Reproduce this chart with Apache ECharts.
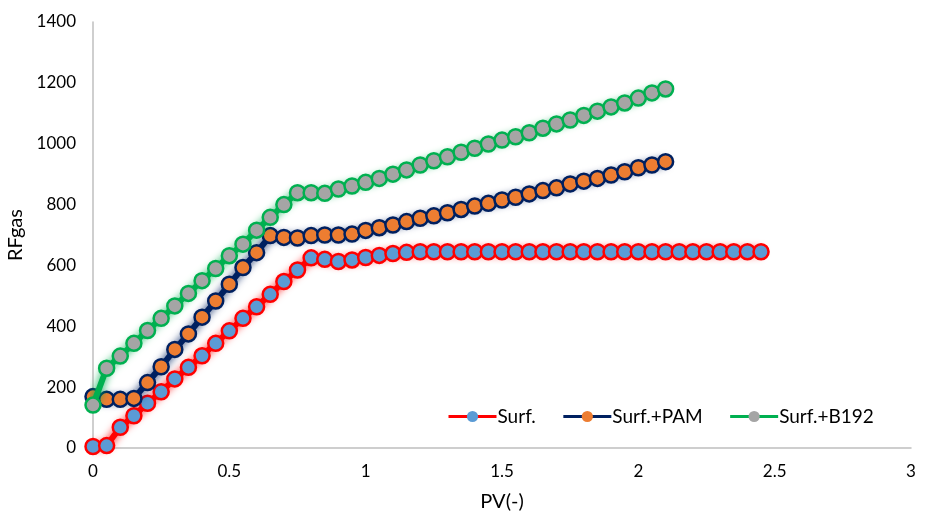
<!DOCTYPE html>
<html>
<head>
<meta charset="utf-8">
<script src="https://cdn.jsdelivr.net/npm/echarts@6/dist/echarts.min.js"></script>
<style>
  html, body { margin: 0; padding: 0; background: #fff; }
  #chart { width: 927px; height: 512px; }
</style>
</head>
<body>
<div id="chart"></div>
<script>
// PV sampling points (step 0.05)
const pv = [0, 0.05, 0.1, 0.15, 0.2, 0.25, 0.3, 0.35, 0.4, 0.45,
    0.5, 0.55, 0.6, 0.65, 0.7, 0.75, 0.8, 0.85, 0.9, 0.95,
    1, 1.05, 1.1, 1.15, 1.2, 1.25, 1.3, 1.35, 1.4, 1.45,
    1.5, 1.55, 1.6, 1.65, 1.7, 1.75, 1.8, 1.85, 1.9, 1.95,
    2, 2.05, 2.1, 2.15, 2.2, 2.25, 2.3, 2.35, 2.4, 2.45];

const surf = [5, 8, 68, 106, 147, 185, 227, 265, 303, 344,
    385, 426, 464, 505, 547, 585, 625, 620, 613, 618,
    626, 633, 639, 643, 645, 645, 645, 645, 645, 645,
    645, 645, 645, 645, 645, 645, 645, 645, 645, 645,
    645, 645, 645, 645, 645, 645, 645, 645, 645, 645];

const surfPam = [169, 160, 160, 163, 215, 267, 324, 375, 430, 483,
    538, 593, 642, 698, 692, 690, 698, 700, 700, 703,
    715, 724, 733, 744, 755, 763, 773, 784, 795, 804,
    815, 824, 835, 846, 855, 868, 877, 886, 897, 908,
    921, 930, 941];

const surfB192 = [141, 262, 302, 344, 386, 426, 467, 508, 550, 590,
    632, 670, 716, 758, 800, 839, 839, 837, 851, 861,
    873, 886, 900, 914, 930, 944, 957, 972, 985, 999,
    1012, 1023, 1036, 1051, 1065, 1078, 1093, 1107, 1121, 1134,
    1150, 1167, 1180];

const seriesNames = ['Surf.', 'Surf.+PAM', 'Surf.+B192'];
const lineColors = ['#ff0000', '#002060', '#00b050'];
const markColors = ['#5b9bd5', '#ed7d31', '#a5a5a5'];
const xTicks = [0, 0.5, 1, 1.5, 2, 2.5, 3];
const yTicks = [0, 200, 400, 600, 800, 1000, 1200, 1400];

const FONT = 'Lato, "Open Sans", sans-serif';

function pairs(ys) {
    return ys.map((y, i) => [pv[i], y]);
}

function makeSeries(idx, ys) {
    return {
        name: seriesNames[idx],
        type: 'line',
        data: pairs(ys),
        symbol: 'circle',
        symbolSize: 15,
        clip: false,
        lineStyle: {
            color: lineColors[idx],
            width: 6,
            shadowColor: lineColors[idx],
            shadowBlur: 8
        },
        itemStyle: {
            color: markColors[idx],
            borderColor: lineColors[idx],
            borderWidth: 2.5
        },
        emphasis: { disabled: true },
        z: 2 + idx
    };
}

let chart = echarts.init(document.getElementById('chart'));
let option = {
    backgroundColor: '#fff',
    animation: false,
    textStyle: { fontFamily: FONT },
    grid: { left: 93, right: 16, top: 22, bottom: 64, containLabel: false, outerBoundsMode: 'none' },
    legend: {
        data: seriesNames,
        left: 442,
        top: 402,
        itemWidth: 48,
        itemHeight: 14,
        itemGap: 26,
        itemStyle: { borderWidth: 0 },
        lineStyle: { width: 3, shadowBlur: 0 },
        textStyle: { fontFamily: FONT, fontSize: 19, color: '#000', padding: [0, 0, 0, -4] }
    },
    xAxis: {
        type: 'value',
        min: 0,
        max: 3,
        interval: 0.5,
        name: 'PV(-)',
        nameLocation: 'middle',
        nameGap: 44,
        nameTextStyle: { fontFamily: FONT, fontSize: 20, color: '#000' },
        axisLine: { show: true, lineStyle: { color: '#bfbfbf', width: 1.5 } },
        axisTick: { show: false },
        splitLine: { show: false },
        axisLabel: {
            fontFamily: FONT, fontSize: 17, color: '#000', margin: 15,
            formatter: v => xTicks.includes(v) ? String(v) : ''
        }
    },
    yAxis: {
        type: 'value',
        min: 0,
        max: 1400,
        interval: 200,
        name: 'RFgas',
        nameLocation: 'middle',
        nameGap: 63,
        nameTextStyle: { fontFamily: FONT, fontSize: 20, color: '#000' },
        axisLine: { show: true, lineStyle: { color: '#bfbfbf', width: 1.5 } },
        axisTick: { show: false },
        splitLine: { show: false },
        axisLabel: {
            fontFamily: FONT, fontSize: 17, color: '#000', margin: 17,
            formatter: v => yTicks.includes(v) ? String(v) : ''
        }
    },
    series: [
        makeSeries(0, surf),
        makeSeries(1, surfPam),
        makeSeries(2, surfB192)
    ]
};
chart.setOption(option);
</script>
</body>
</html>
